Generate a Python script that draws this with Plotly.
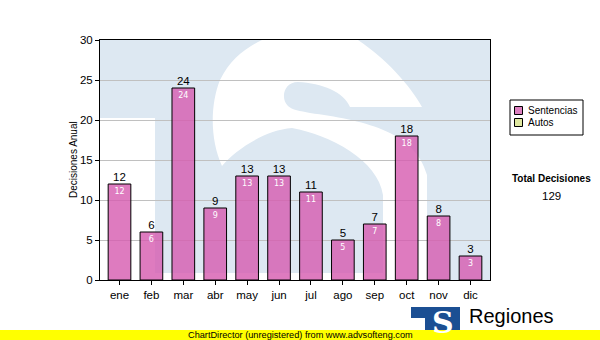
import plotly.graph_objects as go

months = ["ene", "feb", "mar", "abr", "may", "jun", "jul", "ago", "sep", "oct", "nov", "dic"]
sentencias = [12, 6, 24, 9, 13, 13, 11, 5, 7, 18, 8, 3]
autos = [0, 0, 0, 0, 0, 0, 0, 0, 0, 0, 0, 0]
y_ticks = [0, 5, 10, 15, 20, 25, 30]
total_label = "Total Decisiones"
total_value = sum(sentencias) + sum(autos)

W, H = 600, 340
L, R, T, B = 100, 110, 40, 60
PW, PH = W - L - R, H - T - B

def px(x):
    return (x - L) / PW

def py(y):
    return (H - B - y) / PH

def P(x, y):
    return f"{px(x):.5f},{py(y):.5f}"

FONT = "Liberation Sans, Arial, sans-serif"
PINK = "rgba(214,90,175,0.8)"
GREEN = "#dfe8a0"
WM = "#dde8f2"

fig = go.Figure()
fig.add_trace(go.Bar(
    x=months, y=sentencias, name="Sentencias",
    marker=dict(color=PINK, line=dict(color="black", width=1)),
    text=[str(v) for v in sentencias], textposition="inside",
    insidetextanchor="end", textangle=0, constraintext="none",
    textfont=dict(color="white", size=8, family="DejaVu Sans"),
    showlegend=False,
))
fig.add_trace(go.Bar(
    x=months, y=autos, name="Autos",
    marker=dict(color=GREEN, line=dict(color="black", width=0)),
    showlegend=False,
))
fig.add_trace(go.Scatter(
    x=months, y=sentencias, mode="text", text=[str(v) for v in sentencias],
    textposition="top center", textfont=dict(color="black", size=11.5, family=FONT),
    showlegend=False, hoverinfo="skip",
))

shapes = []
# watermark background
shapes.append(dict(type="path", xref="paper", yref="paper", layer="below",
                   path=f"M {P(100,40)} L {P(490,40)} L {P(490,280)} L {P(155,280)} L {P(155,118)} L {P(100,118)} Z",
                   fillcolor=WM, line=dict(width=0)))
s_path = (f"M {P(262,40)} L {P(358,40)} C {P(385,58)} {P(410,85)} {P(422,107)} L {P(350,107)} "
          f"C {P(344,92)} {P(322,83)} {P(298,82)} C {P(284,82)} {P(280,98)} {P(288,106)} "
          f"C {P(292,110)} {P(300,111)} {P(310,113)} C {P(360,120)} {P(415,130)} {P(427,175)} "
          f"L {P(427,280)} L {P(383,280)} L {P(383,195)} C {P(378,160)} {P(330,135)} {P(292,128)} "
          f"C {P(265,130)} {P(235,150)} {P(222,166)} C {P(210,140)} {P(210,105)} {P(220,80)} "
          f"C {P(230,60)} {P(245,48)} {P(262,40)} Z")
shapes.append(dict(type="path", xref="paper", yref="paper", layer="below",
                   path=s_path, fillcolor="white", line=dict(width=0)))
shapes.append(dict(type="path", xref="paper", yref="paper", layer="below",
                   path=f"M {P(155,273)} L {P(383,273)} L {P(383,280)} L {P(155,280)} Z",
                   fillcolor="white", line=dict(width=0)))

# legend box
shapes.append(dict(type="rect", xref="paper", yref="paper",
                   x0=px(510), x1=px(583), y0=py(100), y1=py(135),
                   fillcolor="white", line=dict(color="black", width=1)))
shapes.append(dict(type="rect", xref="paper", yref="paper",
                   x0=px(514.5), x1=px(522.5), y0=py(106.5), y1=py(114.5),
                   fillcolor="#dd80c0", line=dict(color="black", width=1)))
shapes.append(dict(type="rect", xref="paper", yref="paper",
                   x0=px(514.5), x1=px(522.5), y0=py(118.5), y1=py(126.5),
                   fillcolor=GREEN, line=dict(color="black", width=1)))

# logo bottom right
shapes.append(dict(type="path", xref="paper", yref="paper",
                   path=f"M {P(411,307)} L {P(460,307)} L {P(460,340)} L {P(425,340)} L {P(425,318)} L {P(411,318)} Z",
                   fillcolor="#1b4f93", line=dict(width=0)))
# footer band
shapes.append(dict(type="rect", xref="paper", yref="paper",
                   x0=px(0), x1=px(600), y0=py(340), y1=py(330),
                   fillcolor="#ffff00", line=dict(width=0)))

def ann(x, y, text, size, xanchor="center", color="black", family=FONT, **kw):
    return dict(x=px(x), y=py(y), xref="paper", yref="paper", text=text, showarrow=False,
                xanchor=xanchor, yanchor="middle",
                font=dict(family=family, size=size, color=color), **kw)

annotations = [
    ann(526, 110.5, "Sentencias", 10, xanchor="left"),
    ann(526, 122.5, "Autos", 10, xanchor="left"),
    ann(551, 178, f"<b>{total_label}</b>", 10),
    ann(551, 196, str(total_value), 11.5),
    ann(73, 160, "Decisiones Anual", 10, textangle=-90),
    ann(443, 322, "<b>S</b>", 30, color="white", family="DejaVu Serif"),
    ann(467, 316, "Regiones", 20, xanchor="left"),
    ann(300, 334.5, "ChartDirector (unregistered) from www.advsofteng.com", 9.2),
]

fig.update_layout(
    width=W, height=H,
    margin=dict(l=L, r=R, t=T, b=B, pad=0, autoexpand=False),
    paper_bgcolor="white", plot_bgcolor="rgba(0,0,0,0)",
    barmode="overlay", bargap=0.29,
    shapes=shapes, annotations=annotations,
    showlegend=False,
    font=dict(family=FONT, size=11.5, color="black"),
)
fig.update_xaxes(
    type="category", showgrid=False, showline=True, linecolor="black", linewidth=1,
    mirror=True, ticks="outside", ticklen=4, tickcolor="black", automargin=False,
    tickfont=dict(family=FONT, size=11.5, color="black"),
)
fig.update_yaxes(
    range=[0, 30], tickvals=y_ticks, showgrid=True, gridcolor="#c0c0c0", gridwidth=1,
    showline=True, linecolor="black", linewidth=1, mirror=True, automargin=False,
    ticks="outside", ticklen=4, tickcolor="black", zeroline=False,
    tickfont=dict(family=FONT, size=11.5, color="black"),
)

fig.write_html("out.html", config={"displayModeBar": False},
               post_script="document.body.style.margin='0';document.body.style.overflow='hidden';")
